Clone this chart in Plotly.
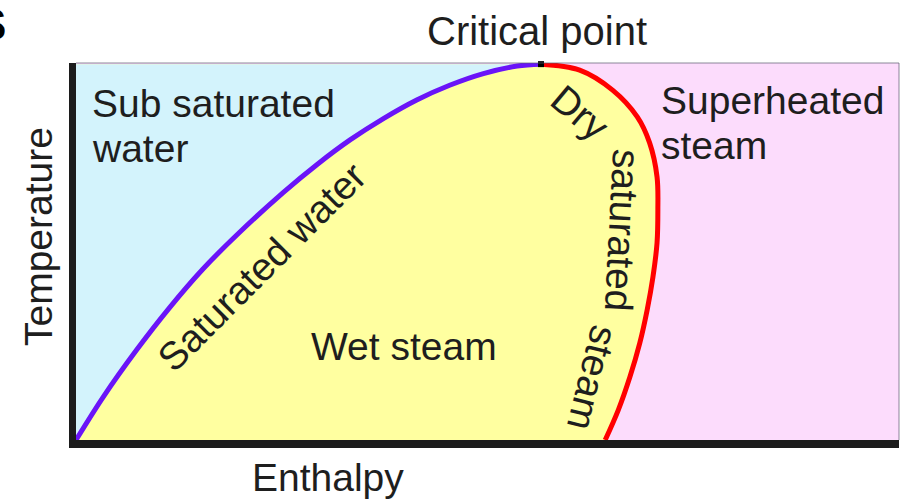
import plotly.graph_objects as go

# saturation dome (enthalpy / temperature, 0-100 scale)
liquid_h = [0.0, 3.3, 7.4, 11.4, 15.4, 19.6, 25.2, 29.3, 33.3, 37.3, 41.4, 45.4, 49.5, 53.6, 56.5]
liquid_t = [0.0, 11.4, 24.0, 35.2, 45.3, 54.5, 65.7, 73.1, 79.6, 85.2, 90.2, 94.1, 97.2, 99.2, 99.7]

vapour_h = [56.5, 61.2, 65.2, 68.2, 69.7, 70.6, 70.7, 70.6, 70.1, 69.4, 68.5, 67.3, 65.9, 64.3]
vapour_t = [99.7, 98.1, 92.8, 85.7, 78.8, 69.8, 61.0, 52.3, 43.2, 34.5, 25.7, 16.7, 8.0, 0.0]

critical_h = [56.5]
critical_t = [99.7]

colors = {
    'cyan': '#d3f3fc',
    'yellow': '#ffffa0',
    'pink': '#fcdcfc',
    'blue': '#6a14f8',
    'red': '#ff0000',
    'axis': '#1c1c1c',
    'text': '#1e1e1e',
}

FONT = 'Liberation Sans, Arial, sans-serif'

# plot area in pixels
L, R, T, B = 76, 899, 63, 440
W, H = R - L, B - T


def px(x):
    return (x - L) / W


def py(y):
    return (B - y) / H


fig = go.Figure()

# wet steam: everything left of the dry saturated line
fig.add_trace(go.Scatter(
    x=vapour_h, y=vapour_t, mode='lines', fill='tozerox',
    fillcolor=colors['yellow'],
    line=dict(color=colors['red'], width=5, shape='spline'),
    hoverinfo='skip', showlegend=False
))

# sub saturated water: left of the saturated water line
fig.add_trace(go.Scatter(
    x=liquid_h, y=liquid_t, mode='lines', fill='tozerox',
    fillcolor=colors['cyan'],
    line=dict(color=colors['blue'], width=5, shape='spline'),
    hoverinfo='skip', showlegend=False
))

fig.add_trace(go.Scatter(
    x=critical_h, y=critical_t, mode='markers',
    marker=dict(symbol='square', size=6, color='black'),
    cliponaxis=False, hoverinfo='skip', showlegend=False
))

labels = [
    # text, x, y, xanchor, angle, size
    ('Critical point', 537, 31, 'center', 0, 40),
    ('Sub saturated', 90, 103, 'left', 0, 39),
    ('water', 90, 148, 'left', 0, 39),
    ('Superheated', 659, 100, 'left', 0, 39),
    ('steam', 659, 145, 'left', 0, 39),
    ('Wet steam', 404, 346, 'center', 0, 39),
    ('Saturated water', 261, 267, 'center', -45, 39),
    ('Dry', 580, 112, 'center', 40, 39),
    ('saturated', 623, 230, 'center', 93, 39),
    ('steam', 593, 378, 'center', 104, 39),
    ('Enthalpy', 328, 477, 'center', 0, 39),
    ('Temperature', 38, 237, 'center', -90, 39),
]

for text, x, y, anchor, angle, size in labels:
    fig.add_annotation(
        x=px(x), y=py(y), xref='paper', yref='paper',
        text=text, showarrow=False, xanchor=anchor, yanchor='middle',
        textangle=angle, font=dict(family=FONT, size=size, color=colors['text'])
    )

# cropped letter at the top-left corner of the source image
fig.add_annotation(
    x=px(8), y=py(24), xref='paper', yref='paper', text='<b>S</b>',
    showarrow=False, xanchor='right', yanchor='middle',
    font=dict(family=FONT, size=44, color='black')
)

# thin top and right frame
fig.add_shape(type='line', xref='paper', yref='paper', x0=0, x1=1, y0=1, y1=1,
              line=dict(color='rgba(90,90,110,0.35)', width=2))
fig.add_shape(type='line', xref='paper', yref='paper', x0=1, x1=1, y0=0, y1=1,
              line=dict(color='rgba(90,90,110,0.35)', width=2))

fig.update_layout(
    width=905, height=499,
    margin=dict(l=L, r=905 - R, t=T, b=499 - B),
    paper_bgcolor='white',
    plot_bgcolor=colors['pink'],
    showlegend=False,
)

fig.update_xaxes(range=[0, 100], showgrid=False, zeroline=False, showticklabels=False,
                 ticks='', showline=True, linewidth=8, linecolor=colors['axis'])
fig.update_yaxes(range=[0, 100], showgrid=False, zeroline=False, showticklabels=False,
                 ticks='', showline=True, linewidth=7, linecolor=colors['axis'])

# the page body has a default 8px margin, drop it so the figure sits at 0,0
fig.write_html("out.html", config={'displayModeBar': False},
               post_script="document.body.style.margin='0';")
